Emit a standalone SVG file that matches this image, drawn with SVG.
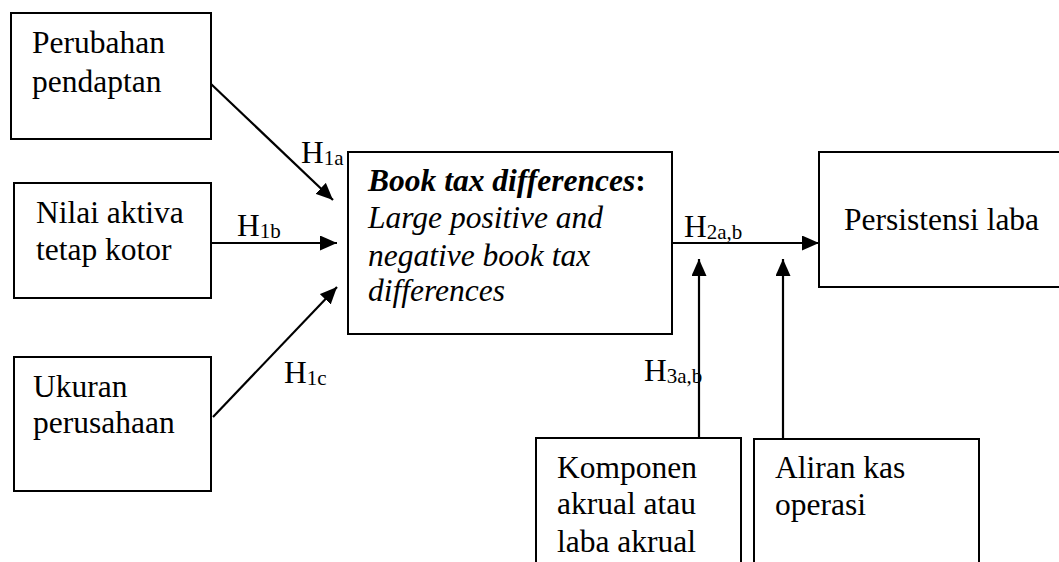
<svg xmlns="http://www.w3.org/2000/svg" width="1059" height="562" viewBox="0 0 1059 562">
<style>
.box{fill:#fff;stroke:#000;stroke-width:2}
.t{font-family:"Liberation Serif","Times New Roman",serif;font-size:31.5px;fill:#000}
.s{font-size:21px}
.c{stroke:#000;stroke-width:2.2;fill:none;marker-end:url(#ah)}
</style>
<defs>
<marker id="ah" markerUnits="userSpaceOnUse" markerWidth="17" markerHeight="15" refX="17" refY="7.5" orient="auto">
<path d="M0,0 L17,7.5 L0,15 z" fill="#000"/>
</marker>
</defs>
<rect width="1059" height="562" fill="#fff"/>
<g id="connectors">
<line class="c" x1="211" y1="84" x2="333" y2="200"/>
<line class="c" x1="212" y1="243" x2="337" y2="243"/>
<line class="c" x1="213" y1="417" x2="337" y2="287"/>
<line class="c" x1="672" y1="243" x2="819" y2="243"/>
<line class="c" x1="699" y1="438" x2="699" y2="259"/>
<line class="c" x1="783" y1="439" x2="783" y2="259"/>
<text class="t" x="301" y="163">H<tspan class="s" dy="2">1a</tspan></text>
<text class="t" x="237" y="236">H<tspan class="s" dy="2">1b</tspan></text>
<text class="t" x="284" y="383">H<tspan class="s" dy="2">1c</tspan></text>
<text class="t" x="684" y="237">H<tspan class="s" dy="2">2a,b</tspan></text>
<text class="t" x="644" y="381">H<tspan class="s" dy="2">3a,b</tspan></text>
</g>
<g id="n1">
<rect class="box" x="11" y="13" width="200" height="126"/>
<text class="t" x="32" y="53">Perubahan</text>
<text class="t" x="32" y="92">pendaptan</text>
</g>
<g id="n2">
<rect class="box" x="14" y="183" width="197" height="115"/>
<text class="t" x="36" y="223">Nilai aktiva</text>
<text class="t" x="36" y="260">tetap kotor</text>
</g>
<g id="n3">
<rect class="box" x="14" y="357" width="197" height="134"/>
<text class="t" x="33" y="397">Ukuran</text>
<text class="t" x="33" y="433">perusahaan</text>
</g>
<g id="n4">
<rect class="box" x="348" y="152" width="324" height="182"/>
<text class="t" x="368" y="191" font-style="italic" font-weight="bold">Book tax differences<tspan font-style="normal">:</tspan></text>
<text class="t" x="368" y="228" font-style="italic">Large positive and</text>
<text class="t" x="368" y="266" font-style="italic">negative book tax</text>
<text class="t" x="368" y="301" font-style="italic">differences</text>
</g>
<g id="n5">
<rect class="box" x="819" y="152" width="260" height="135"/>
<text class="t" x="844" y="230">Persistensi laba</text>
</g>
<g id="n6">
<rect class="box" x="536" y="438" width="205" height="150"/>
<text class="t" x="557" y="478">Komponen</text>
<text class="t" x="557" y="514">akrual atau</text>
<text class="t" x="557" y="552">laba akrual</text>
</g>
<g id="n7">
<rect class="box" x="754" y="439" width="225" height="150"/>
<text class="t" x="775" y="478">Aliran kas</text>
<text class="t" x="775" y="515">operasi</text>
</g>
</svg>
